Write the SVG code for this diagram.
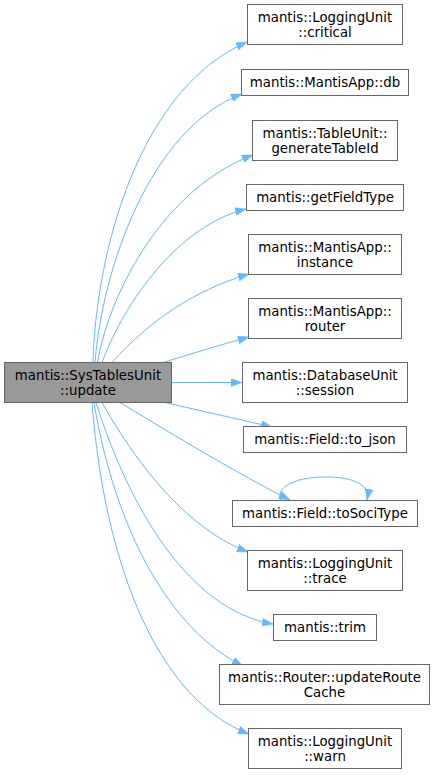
<svg xmlns="http://www.w3.org/2000/svg" width="435" height="775" viewBox="0 0 435 775">
<style>
.n rect{fill:#fff;stroke:#666;stroke-width:1}
.m rect{fill:#999;stroke:#666;stroke-width:1}
text{font-family:"DejaVu Sans","Liberation Sans",sans-serif;font-size:13.33px;fill:#000;text-anchor:middle}
.e path{fill:none;stroke:#63b8ff;stroke-width:1;marker-end:url(#a)}
</style>
<defs>
<marker id="a" markerUnits="userSpaceOnUse" markerWidth="11" markerHeight="8" viewBox="0 0 11 8" refX="11" refY="4" orient="auto">
<path d="M0,0 L11,4 L0,8 z" fill="#63b8ff" stroke="#63b8ff" stroke-width="0.5"/>
</marker>
</defs>
<g id="edges" class="e">
<path d="M93,362.5 C96,250 140,88 247,42"/>
<path d="M95,362.5 C102,270 150,128 242,94"/>
<path d="M97.5,362.5 C110,290 165,188 253,155"/>
<path d="M102,362.5 C125,300 180,225 246,209"/>
<path d="M112,362.5 C150,320 195,290 249,274"/>
<path d="M163,362.5 C190,354 220,345 249,337"/>
<path d="M171.5,382.5 L242,382.5"/>
<path d="M165,402.5 L272,427"/>
<path d="M120,402.5 C170,433 240,475 290,500"/>
<path d="M102,402.5 C140,470 190,530 248,552"/>
<path d="M96,402.5 C130,510 190,610 273,624"/>
<path d="M94,402.5 C115,530 170,630 243,666"/>
<path d="M92,402.5 C105,570 160,700 249,734"/>
<path d="M281,500.5 C275,489 292,477 325,477 C355,477 370,485 367,500"/>
</g>
<g id="update" class="m"><rect x="4.5" y="362.5" width="167" height="40"/><text x="88" y="380">mantis::SysTablesUnit</text><text x="88" y="394.5">::update</text></g>
<g id="critical" class="n"><rect x="247.5" y="4.5" width="155" height="40"/><text x="325" y="22">mantis::LoggingUnit</text><text x="325" y="36.5">::critical</text></g>
<g id="db" class="n"><rect x="241.5" y="69.5" width="167" height="26"/><text x="325" y="87">mantis::MantisApp::db</text></g>
<g id="generateTableId" class="n"><rect x="252.5" y="120.5" width="145" height="40"/><text x="325" y="138">mantis::TableUnit::</text><text x="325" y="152.5">generateTableId</text></g>
<g id="getFieldType" class="n"><rect x="246.5" y="184.5" width="157" height="26"/><text x="325" y="202">mantis::getFieldType</text></g>
<g id="instance" class="n"><rect x="248.5" y="234.5" width="153" height="40"/><text x="325" y="252">mantis::MantisApp::</text><text x="325" y="266.5">instance</text></g>
<g id="router" class="n"><rect x="248.5" y="298.5" width="153" height="40"/><text x="325" y="316">mantis::MantisApp::</text><text x="325" y="330.5">router</text></g>
<g id="session" class="n"><rect x="242.5" y="362.5" width="165" height="40"/><text x="325" y="380">mantis::DatabaseUnit</text><text x="325" y="394.5">::session</text></g>
<g id="to_json" class="n"><rect x="243.5" y="426.5" width="163" height="26"/><text x="325" y="444">mantis::Field::to_json</text></g>
<g id="toSociType" class="n"><rect x="232.5" y="500.5" width="185" height="26"/><text x="325" y="518">mantis::Field::toSociType</text></g>
<g id="trace" class="n"><rect x="247.5" y="550.5" width="155" height="40"/><text x="325" y="568">mantis::LoggingUnit</text><text x="325" y="582.5">::trace</text></g>
<g id="trim" class="n"><rect x="273.5" y="614.5" width="103" height="26"/><text x="325" y="632">mantis::trim</text></g>
<g id="updateRouteCache" class="n"><rect x="219.5" y="664.5" width="210" height="40"/><text x="324.5" y="682">mantis::Router::updateRoute</text><text x="324.5" y="696.5">Cache</text></g>
<g id="warn" class="n"><rect x="248.5" y="728.5" width="153" height="40"/><text x="325" y="746">mantis::LoggingUnit</text><text x="325" y="760.5">::warn</text></g>
</svg>
